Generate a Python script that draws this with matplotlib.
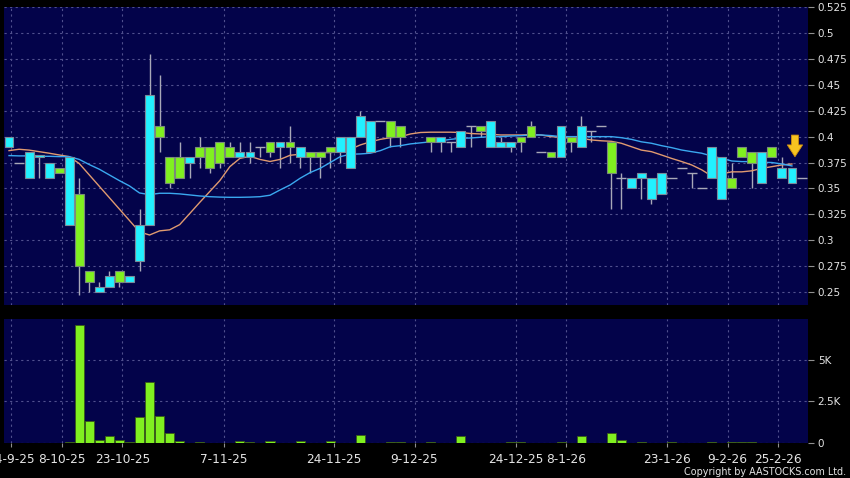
import numpy as np
import matplotlib
matplotlib.use('Agg')
import matplotlib.pyplot as plt

# Daily OHLC (nan = no candle drawn)
nan = np.nan
opens = [0.39, 0.375, 0.36, 0.38, 0.36, 0.37, 0.315, 0.345, 0.27, 0.25,
         0.255, 0.27, 0.26, 0.28, 0.315, 0.41, 0.38, 0.38, 0.375, 0.39,
         0.39, 0.395, 0.39, 0.38, 0.38, 0.39, 0.395, 0.39, 0.395, 0.38,
         0.385, 0.385, 0.39, 0.385, 0.37, 0.40, 0.385, 0.415, 0.415, 0.41,
         nan, nan, 0.40, 0.395, 0.395, 0.39, 0.41, 0.41, 0.39, 0.39,
         0.39, 0.40, 0.41, 0.385, 0.385, 0.38, 0.40, 0.39, 0.405, 0.41,
         0.395, 0.36, 0.35, 0.36, 0.34, 0.345, 0.36, 0.37, 0.365, 0.35,
         0.36, 0.34, 0.36, 0.39, 0.385, 0.355, 0.39, 0.36, 0.355, 0.36]
highs = [0.40, 0.375, 0.385, 0.382, 0.375, 0.37, 0.38, 0.36, 0.27, 0.26,
         0.27, 0.27, 0.265, 0.33, 0.48, 0.46, 0.38, 0.395, 0.38, 0.40,
         0.39, 0.395, 0.395, 0.395, 0.395, 0.39, 0.395, 0.395, 0.41, 0.39,
         0.385, 0.385, 0.39, 0.40, 0.40, 0.425, 0.415, 0.415, 0.415, 0.41,
         nan, nan, 0.40, 0.40, 0.395, 0.405, 0.41, 0.41, 0.415, 0.40,
         0.395, 0.40, 0.415, 0.385, 0.385, 0.41, 0.40, 0.42, 0.405, 0.41,
         0.395, 0.365, 0.36, 0.365, 0.36, 0.365, 0.36, 0.37, 0.365, 0.35,
         0.39, 0.38, 0.375, 0.39, 0.385, 0.385, 0.39, 0.38, 0.37, 0.36]
lows = [0.39, 0.375, 0.36, 0.36, 0.36, 0.365, 0.315, 0.247, 0.25, 0.25,
        0.255, 0.255, 0.26, 0.27, 0.315, 0.385, 0.35, 0.36, 0.36, 0.37,
        0.365, 0.37, 0.38, 0.38, 0.375, 0.38, 0.38, 0.37, 0.375, 0.37,
        0.365, 0.36, 0.37, 0.375, 0.37, 0.40, 0.385, 0.415, 0.39, 0.39,
        nan, nan, 0.385, 0.385, 0.385, 0.39, 0.39, 0.40, 0.39, 0.39,
        0.385, 0.385, 0.40, 0.385, 0.38, 0.38, 0.385, 0.39, 0.395, 0.41,
        0.33, 0.33, 0.35, 0.34, 0.335, 0.345, 0.36, 0.37, 0.35, 0.35,
        0.36, 0.34, 0.35, 0.38, 0.35, 0.355, 0.38, 0.36, 0.355, 0.36]
closes = [0.40, 0.375, 0.385, 0.382, 0.375, 0.365, 0.38, 0.275, 0.26, 0.255,
          0.265, 0.26, 0.265, 0.315, 0.44, 0.40, 0.355, 0.36, 0.38, 0.38,
          0.37, 0.375, 0.38, 0.385, 0.385, 0.39, 0.385, 0.395, 0.39, 0.39,
          0.38, 0.38, 0.385, 0.40, 0.40, 0.42, 0.415, 0.415, 0.40, 0.40,
          nan, nan, 0.395, 0.40, 0.395, 0.405, 0.41, 0.405, 0.415, 0.395,
          0.395, 0.395, 0.40, 0.385, 0.38, 0.41, 0.395, 0.41, 0.405, 0.41,
          0.365, 0.36, 0.36, 0.365, 0.36, 0.365, 0.36, 0.37, 0.365, 0.35,
          0.39, 0.38, 0.35, 0.38, 0.375, 0.385, 0.38, 0.37, 0.37, 0.36]
volumes = [0, 0, 0, 0, 0, 0, 60, 7100, 1300, 200,
           400, 200, 60, 1540, 3680, 1600, 580, 140, 0, 80,
           0, 0, 0, 140, 60, 0, 140, 0, 0, 120,
           0, 0, 120, 0, 20, 500, 20, 0, 80, 60,
           0, 0, 80, 0, 0, 440, 0, 0, 0, 0,
           60, 60, 0, 20, 0, 60, 0, 440, 0, 0,
           600, 200, 0, 40, 0, 0, 60, 0, 0, 0,
           60, 0, 80, 60, 80, 0, 0, 20, 20, 0]

# moving averages (candles 0..78)
ma_short = [0.3865, 0.3878, 0.387, 0.3855, 0.384, 0.3823, 0.3807, 0.374, 0.363, 0.352,
            0.341, 0.33, 0.319, 0.308, 0.305, 0.309, 0.31, 0.315, 0.3257, 0.3365,
            0.347, 0.3575, 0.371, 0.379, 0.381, 0.378, 0.376, 0.378, 0.382, 0.383,
            0.384, 0.3846, 0.3846, 0.3855, 0.3878, 0.392, 0.395, 0.3974, 0.399, 0.40,
            0.4026, 0.404, 0.4043, 0.4043, 0.4043, 0.404, 0.403, 0.4026, 0.4023, 0.4016,
            0.4016, 0.4016, 0.402, 0.4016, 0.40, 0.3994, 0.399, 0.3984, 0.3968, 0.396,
            0.3955, 0.3936, 0.3903, 0.387, 0.3855, 0.3823, 0.379, 0.376, 0.3727, 0.368,
            0.362, 0.364, 0.366, 0.366, 0.367, 0.3694, 0.371, 0.3727, 0.3736]
ma_long = [0.3817, 0.3814, 0.3814, 0.381, 0.381, 0.3807, 0.3807, 0.378, 0.373, 0.3685,
           0.363, 0.3575, 0.3524, 0.3456, 0.344, 0.3453, 0.3453, 0.3447, 0.3437, 0.3427,
           0.342, 0.3416, 0.3414, 0.3414, 0.3416, 0.342, 0.3434, 0.3485, 0.3533, 0.3598,
           0.3653, 0.3694, 0.375, 0.3807, 0.383, 0.3833, 0.384, 0.3865, 0.3903, 0.3913,
           0.393, 0.394, 0.395, 0.396, 0.3974, 0.3984, 0.3987, 0.3994, 0.40, 0.40,
           0.4006, 0.401, 0.4016, 0.4016, 0.401, 0.40, 0.40, 0.40, 0.40, 0.40,
           0.40, 0.399, 0.3974, 0.395, 0.3936, 0.3913, 0.3894, 0.3871, 0.3855, 0.384,
           0.3813, 0.379, 0.3765, 0.3759, 0.3759, 0.3752, 0.375, 0.3736, 0.3717]

# date tick positions (in candle units) and labels
date_pos = [0.2, 5.3, 11.3, 21.4, 32.4, 40.4, 50.5, 55.5, 65.6, 71.6, 76.6]
date_labels = ['24-9-25', '8-10-25', '23-10-25', '7-11-25', '24-11-25', '9-12-25',
               '24-12-25', '8-1-26', '23-1-26', '9-2-26', '25-2-26']
price_ticks = [0.25, 0.275, 0.3, 0.325, 0.35, 0.375, 0.4, 0.425, 0.45, 0.475, 0.5, 0.525]
vol_ticks = [0, 2500, 5000]
vol_labels = ['0', '2.5K', '5K']

BG = '#03034a'
GRID = '#50508e'
UP = '#22f0ff'
DOWN = '#80f020'
TXT = '#e4e4e4'

o = np.array(opens); h = np.array(highs); l = np.array(lows); c = np.array(closes)
x = np.arange(len(o))
ok = ~np.isnan(o)

fig = plt.figure(figsize=(8.5, 4.78), dpi=100, facecolor='black')
axp = fig.add_axes([4/850, 1-305/478, 804/850, 298/478])
axv = fig.add_axes([4/850, 1-443/478, 804/850, 124/478])

for ax in (axp, axv):
    ax.set_facecolor(BG)
    for s in ax.spines.values():
        s.set_visible(False)
    ax.set_xlim(-0.5, 79.6)
    ax.yaxis.tick_right()
    ax.grid(True, color=GRID, linestyle=(0, (2, 3)), linewidth=0.8)
    ax.set_axisbelow(True)
    ax.tick_params(axis='y', colors='#909090', labelcolor=TXT, labelsize=7.5,
                   length=4, pad=3)
    ax.set_xticks(date_pos)

# candles
up = ok & (c > o)
dn = ok & (c < o)
dj = ok & (c == o)
axp.vlines(x[ok], l[ok], h[ok], color='#a8a8b8', linewidth=1, zorder=2)
axp.hlines(c[dj], x[dj] - 0.5, x[dj] + 0.5, color='#a8a8b8', linewidth=1, zorder=2)
axp.plot(np.arange(len(ma_short)), ma_short, color='#e09a70', linewidth=1, zorder=3)
axp.plot(np.arange(len(ma_long)), ma_long, color='#3aa8f0', linewidth=1, zorder=3)
axp.bar(x[up], c[up] - o[up], bottom=o[up], width=0.88, color=UP,
        edgecolor='#7a8a9a', linewidth=0.8, zorder=4)
axp.bar(x[dn], o[dn] - c[dn], bottom=c[dn], width=0.88, color=DOWN,
        edgecolor='#7a8a7a', linewidth=0.8, zorder=4)

axp.set_ylim(0.2374, 0.5252)
axp.set_yticks(price_ticks)
axp.set_yticklabels(['%g' % t for t in price_ticks])
axp.tick_params(axis='x', length=0, labelbottom=False)

# last-day marker
axp.annotate('', xy=(78.3, 0.3806), xytext=(78.3, 0.4015),
             arrowprops=dict(arrowstyle='simple,head_length=0.85,head_width=1.1,tail_width=0.5',
                             fc='#f8c420', ec='#d09010', lw=0.6, shrinkA=0, shrinkB=0),
             zorder=6)

# volume
axv.bar(x, volumes, width=0.9, color=DOWN, edgecolor='#3a5a18', linewidth=0.6, zorder=3)
axv.set_ylim(0, 7450)
axv.set_yticks(vol_ticks)
axv.set_yticklabels(vol_labels)
axv.set_xticklabels(date_labels)
axv.tick_params(axis='x', colors='#909090', labelcolor=TXT, labelsize=8.7,
                length=3, pad=4)

fig.text(846/850, 1-471.7/478, 'Copyright by AASTOCKS.com Ltd.', ha='right',
         va='center', color=TXT, fontsize=6.9)

fig.savefig('out.png', dpi=100, facecolor='black')
